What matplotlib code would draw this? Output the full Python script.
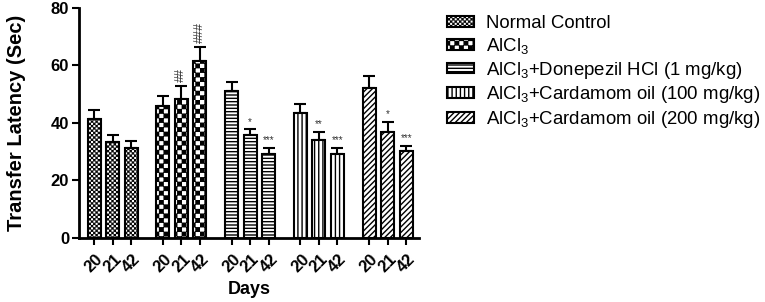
import warnings
import numpy as np
import matplotlib
matplotlib.use("Agg")
from matplotlib import pyplot as plt
from matplotlib import hatch as mhatch
from matplotlib.path import Path

warnings.filterwarnings("ignore")

plt.rcParams['font.family'] = ['Liberation Sans', 'DejaVu Sans']
plt.rcParams['mathtext.default'] = 'regular'
plt.rcParams['hatch.linewidth'] = 1.0

# data
groups = ['Normal Control', 'AlCl$_3$', 'AlCl$_3$+Donepezil HCl (1 mg/kg)',
          'AlCl$_3$+Cardamom oil (100 mg/kg)', 'AlCl$_3$+Cardamom oil (200 mg/kg)']
days = ['20', '21', '42']
normal_mean = [41.3, 33.5, 31.4]
normal_err = [3.1, 2.3, 2.3]
alcl3_mean = [45.9, 48.3, 61.6]
alcl3_err = [3.4, 4.6, 4.7]
donepezil_mean = [51.1, 35.8, 29.1]
donepezil_err = [3.3, 2.0, 2.3]
card100_mean = [43.6, 34.0, 29.1]
card100_err = [2.9, 3.0, 2.3]
card200_mean = [52.1, 37.0, 30.3]
card200_err = [4.2, 3.5, 1.8]
signif = [['', '', ''], ['', '##', '###'], ['', '*', '***'],
          ['', '**', '***'], ['', '*', '***']]

means = [normal_mean, alcl3_mean, donepezil_mean, card100_mean, card200_mean]
errs = [normal_err, alcl3_err, donepezil_err, card100_err, card200_err]


# checkerboard hatch ('k' fine, 'K' coarse)
class CheckerHatch(mhatch.HatchPatternBase):
    def __init__(self, hatch, density):
        self.cells = 44 * hatch.count('k') + 22 * hatch.count('K')
        self.num_vertices = (self.cells * self.cells // 2) * 5

    def set_vertices_and_codes(self, vertices, codes):
        n = self.cells
        s = 1.0 / n
        ins = 0.006 if n > 30 else 0.005
        k = 0
        for i in range(n):
            for j in range(n):
                if (i + j) % 2:
                    continue
                x0, y0 = i * s + ins, j * s + ins
                x1, y1 = (i + 1) * s - ins, (j + 1) * s - ins
                vertices[k:k + 5] = [(x0, y0), (x1, y0), (x1, y1), (x0, y1), (x0, y0)]
                codes[k:k + 5] = [Path.MOVETO, Path.LINETO, Path.LINETO,
                                  Path.LINETO, Path.CLOSEPOLY]
                k += 5


mhatch._hatch_types.append(CheckerHatch)

hatches = ['k', 'K', '-----', '||||', '//////']

fig = plt.figure(figsize=(7.65, 3.02), dpi=100)
ax = fig.add_axes([0.103, 0.212, 0.445, 0.7615])

group_step = 3.7
bar_w = 0.7
xticks = []
xlabels = []
for g, name in enumerate(groups):
    x = g * group_step + np.arange(len(days))
    ax.bar(x, means[g], width=bar_w, color='white', edgecolor='black',
           linewidth=1.5, hatch=hatches[g], label=name, zorder=3)
    ax.errorbar(x, means[g], yerr=[np.zeros(len(days)), errs[g]], fmt='none',
                ecolor='black', elinewidth=1.5, capsize=4, capthick=1.5, zorder=2)
    for i, s in enumerate(signif[g]):
        if not s:
            continue
        top = means[g][i] + errs[g][i]
        if s.startswith('#'):
            ax.text(x[i], top + 1.5, s, rotation=90, ha='center', va='bottom',
                    fontsize=9, color='#333333')
        else:
            ax.text(x[i], top + 0.8, s, ha='center', va='bottom',
                    fontsize=7, color='#333333')
    xticks.extend(x)
    xlabels.extend(days)

ax.set_xlim(-0.82, 4 * group_step + 2 + 0.7)
ax.set_ylim(0, 80)
ax.set_yticks([0, 20, 40, 60, 80])
ax.set_xticks(xticks)
ax.set_xticklabels(xlabels, rotation=45, ha='center')
for lab in ax.get_xticklabels() + ax.get_yticklabels():
    lab.set_fontweight('bold')
    lab.set_fontsize(12)
ax.tick_params(axis='x', direction='out', length=5, width=1.5, pad=5)
ax.tick_params(axis='y', direction='out', length=5, width=1.5, pad=2)
for side in ['top', 'right']:
    ax.spines[side].set_visible(False)
for side in ['left', 'bottom']:
    ax.spines[side].set_linewidth(2)

ax.set_ylabel('Transfer Latency (Sec)', fontsize=14.5, fontweight='bold', labelpad=18)
ax.set_xlabel('Days', fontsize=13, fontweight='bold', labelpad=4)

fig.legend(loc='upper left', bbox_to_anchor=(0.584, 0.95), frameon=False,
           fontsize=13.4, borderpad=0, borderaxespad=0, handlelength=1.45,
           handleheight=0.5, handletextpad=0.68, labelspacing=0.2)

fig.savefig('out.png', dpi=100)
